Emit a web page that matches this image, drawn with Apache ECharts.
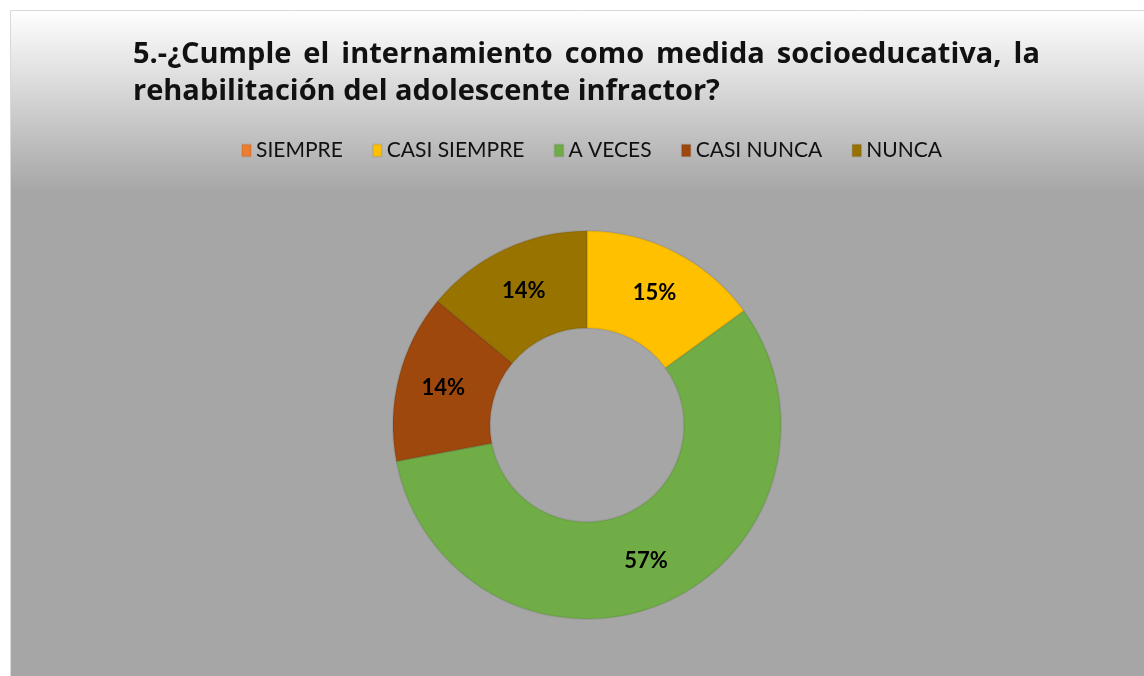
<!DOCTYPE html>
<html>
<head>
<meta charset="utf-8">
<script src="https://cdn.jsdelivr.net/npm/echarts@6/dist/echarts.min.js"></script>
<style>
  html, body { margin: 0; padding: 0; background: #fff; }
  #echart { width: 1144px; height: 676px; }
</style>
</head>
<body>
<div id="echart"></div>
<script>
// datos de la pregunta 5
var categorias = ['SIEMPRE', 'CASI SIEMPRE', 'A VECES', 'CASI NUNCA', 'NUNCA'];
var porcentajes = [0, 15, 57, 14, 14];
var colores = ['#ED7D31', '#FFC000', '#70AD47', '#9E480E', '#997300'];
var tituloLinea1 = '5.-¿Cumple el internamiento como medida socioeducativa, la';
var tituloLinea2 = 'rehabilitación del adolescente infractor?';

// la primera linea del titulo va justificada (como en excel)
var titulo = tituloLinea1.split(' ').map(function (w) {
  return '{t|' + w + '}';
}).join('{e| }') + '\n{t|' + tituloLinea2 + '}';

var myChart = echarts.init(document.getElementById('echart'));

var estiloTitulo = {
  fontFamily: 'Open Sans',
  fontSize: 29,
  fontWeight: 'bold',
  color: '#111',
  lineHeight: 37
};

var option = {
  color: colores,
  animation: false,
  textStyle: { fontFamily: 'Lato' },
  graphic: [
    {
      type: 'rect',
      silent: true,
      z: -10,
      shape: { x: 10.5, y: 10.5, width: 1140, height: 670 },
      style: {
        fill: new echarts.graphic.LinearGradient(0, 0, 0, 1, [
          { offset: 0, color: '#ffffff' },
          { offset: 0.27, color: '#a6a6a6' },
          { offset: 1, color: '#a6a6a6' }
        ]),
        stroke: '#d9d9d9',
        lineWidth: 1
      }
    }
  ],
  title: {
    text: titulo,
    left: 128,
    top: 31,
    textStyle: {
      fontFamily: 'Open Sans',
      fontSize: 29,
      fontWeight: 'bold',
      color: '#111',
      lineHeight: 37,
      rich: {
        t: estiloTitulo,
        e: Object.assign({}, estiloTitulo, { width: 12 })
      }
    }
  },
  legend: {
    data: categorias,
    left: 236,
    top: 135,
    icon: 'rect',
    itemWidth: 9,
    itemHeight: 12,
    itemGap: 29,
    textStyle: {
      fontFamily: 'Lato',
      fontSize: 21,
      color: '#111'
    }
  },
  series: [
    {
      name: 'Pregunta 5',
      type: 'pie',
      center: [587, 425],
      radius: [97, 194],
      startAngle: 90,
      clockwise: true,
      avoidLabelOverlap: false,
      itemStyle: {
        borderColor: 'rgba(0,0,0,0.07)',
        borderWidth: 2
      },
      label: {
        show: true,
        position: 'inside',
        fontFamily: 'Lato',
        fontSize: 22,
        fontWeight: 'bold',
        color: '#000',
        formatter: function (p) {
          return p.value ? p.value + '%' : '';
        }
      },
      labelLine: { show: false },
      emphasis: { disabled: true },
      data: categorias.map(function (c, i) {
        return { name: c, value: porcentajes[i] };
      })
    }
  ]
};
myChart.setOption(option);
</script>
</body>
</html>
